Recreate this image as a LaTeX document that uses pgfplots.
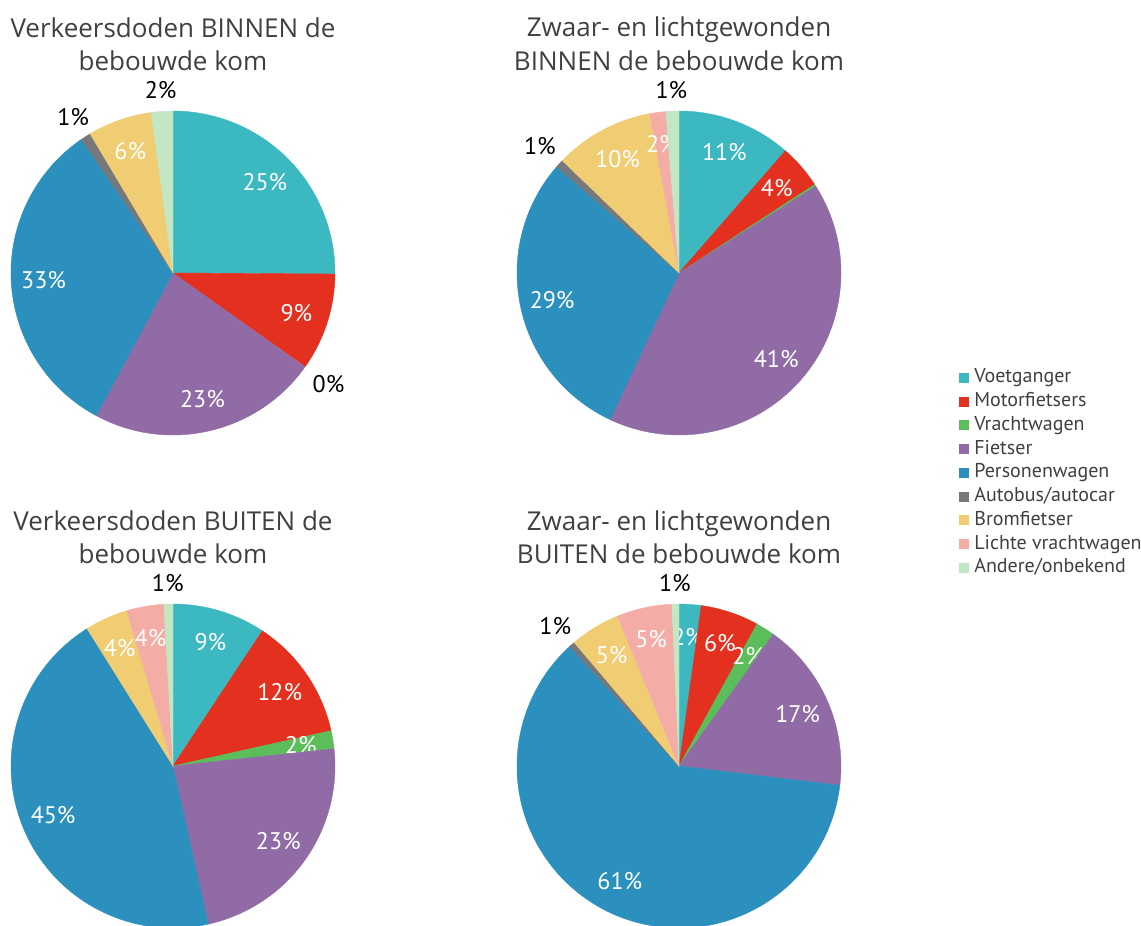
\documentclass[border=0pt]{standalone}
\usepackage{fontspec}
\setmainfont{PT Sans}
\newfontfamily\titlefont{Open Sans}
\usepackage{pgfplots}
\usepackage{pgfplotstable}
\pgfplotsset{compat=1.18}

% slice colours, in legend order
\definecolor{c0}{HTML}{3BB8C0}
\definecolor{c1}{HTML}{E4301F}
\definecolor{c2}{HTML}{5BBE5A}
\definecolor{c3}{HTML}{906BA6}
\definecolor{c4}{HTML}{2B90BD}
\definecolor{c5}{HTML}{77787B}
\definecolor{c6}{HTML}{F0CC72}
\definecolor{c7}{HTML}{F4ADA6}
\definecolor{c8}{HTML}{C3E6C3}
\definecolor{txtgray}{HTML}{404040}

% val = share in %, lbl = printed label, pos: 0 none, 1 inside, 2 outside
\pgfplotstableread{
val  lbl pos
25.1 25 1
9.7  9  1
0.05 0  2
23.0 23 1
32.6 33 1
1.0  1  2
6.4  6  1
0    0  0
2.15 2  2
}\pieA
\pgfplotstableread{
val  lbl pos
11.4 11 1
4.4  4  1
0.2  0  0
41.0 41 1
29.4 29 1
0.8  1  2
9.9  10 1
1.6  2  1
1.3  1  2
}\pieB
\pgfplotstableread{
val  lbl pos
9.3  9  1
12.2 12 1
1.8  2  1
23.2 23 1
44.6 45 1
0    0  0
4.3  4  1
3.7  4  1
0.9  1  2
}\pieC
\pgfplotstableread{
val  lbl pos
2.2  2  1
5.8  6  1
1.9  2  1
17.0 17 1
61.3 61 1
0.6  1  2
5.0  5  1
5.5  5  1
0.7  1  2
}\pieD

\newcommand{\drawpie}[1]{%
  \pgfplotsextra{%
    \pgfplotstablegetrowsof{#1}%
    \pgfmathtruncatemacro\lastrow{\pgfplotsretval-1}%
    \gdef\cum{0}%
    \foreach \i in {0,...,\lastrow}{%
      \pgfplotstablegetelem{\i}{val}\of{#1}\let\sval\pgfplotsretval
      \pgfplotstablegetelem{\i}{lbl}\of{#1}\let\slbl\pgfplotsretval
      \pgfplotstablegetelem{\i}{pos}\of{#1}\let\spos\pgfplotsretval
      \pgfmathsetmacro\aA{90-3.6*\cum}%
      \pgfmathsetmacro\aB{90-3.6*(\cum+\sval)}%
      \pgfmathsetmacro\aM{(\aA+\aB)/2}%
      \pgfmathsetmacro\anc{\aM+180}%
      \ifdim\sval pt>0.1pt
        \fill[c\i, draw=c\i, line width=0.2pt] (axis cs:0,0) -- ++(\aA:81pt)
          arc[start angle=\aA, end angle=\aB, radius=81pt] -- cycle;
      \fi
      \ifnum\spos=1
        \node[text=white, font=\fontsize{12}{14}\selectfont]
          at ([shift={(\aM:64.8pt)}]axis cs:0,0) {\slbl\%};
      \fi
      \ifnum\spos=2
        \node[text=black, anchor=\anc, inner sep=1pt, font=\fontsize{12}{14}\selectfont]
          at ([shift={(\aM:86pt)}]axis cs:0,0) {\slbl\%};
      \fi
      \pgfmathsetmacro\newcum{\cum+\sval}\xdef\cum{\newcum}%
    }%
  }%
}

\begin{document}
\begin{tikzpicture}
\pgfplotsset{pie/.style={hide axis, x=81pt, y=81pt, xmin=-1, xmax=1,
  ymin=-1, ymax=1, anchor=center, clip=false}}

\begin{axis}[pie, at={(86.5pt,-136.5pt)}]
\drawpie{\pieA}
\end{axis}

\begin{axis}[pie, at={(339.5pt,-136.5pt)},
  legend style={at={(axis description cs:1.364,-0.117)}, anchor=west,
    draw=none, fill=none, inner sep=0pt, row sep=2.875pt,
    font=\fontsize{10}{12}\selectfont, text=txtgray,
    nodes={inner sep=0pt, text height=7pt, text depth=2pt}},
  legend cell align=left,
  legend image code/.code={\fill[#1] (0pt,-2.5pt) rectangle (5pt,2.5pt);
    \path (7.5pt,0pt);}]
\drawpie{\pieB}
\addlegendimage{fill=c0, draw=none}\addlegendentry{Voetganger}
\addlegendimage{fill=c1, draw=none}\addlegendentry{Motorfietsers}
\addlegendimage{fill=c2, draw=none}\addlegendentry{Vrachtwagen}
\addlegendimage{fill=c3, draw=none}\addlegendentry{Fietser}
\addlegendimage{fill=c4, draw=none}\addlegendentry{Personenwagen}
\addlegendimage{fill=c5, draw=none}\addlegendentry{Autobus/autocar}
\addlegendimage{fill=c6, draw=none}\addlegendentry{Bromfietser}
\addlegendimage{fill=c7, draw=none}\addlegendentry{Lichte vrachtwagen}
\addlegendimage{fill=c8, draw=none}\addlegendentry{Andere/onbekend}
\end{axis}

\begin{axis}[pie, at={(86.5pt,-383pt)}]
\drawpie{\pieC}
\end{axis}

\begin{axis}[pie, at={(339.5pt,-383pt)}]
\drawpie{\pieD}
\end{axis}

% titles
\begin{scope}[every node/.style={anchor=base, text=txtgray,
  font=\titlefont\fontsize{13}{16}\selectfont}]
\node at (86.5pt,-18.5pt) {Verkeersdoden BINNEN de};
\node at (86.5pt,-35pt) {bebouwde kom};
\node at (339.5pt,-18pt) {Zwaar- en lichtgewonden};
\node at (339.5pt,-35pt) {BINNEN de bebouwde kom};
\node at (86.5pt,-265pt) {Verkeersdoden BUITEN de};
\node at (86.5pt,-281.5pt) {bebouwde kom};
\node at (339.5pt,-265pt) {Zwaar- en lichtgewonden};
\node at (339.5pt,-281.5pt) {BUITEN de bebouwde kom};
\end{scope}

\pgfresetboundingbox
\path[use as bounding box] (0pt,0pt) rectangle (570.5pt,-463pt);
\end{tikzpicture}
\end{document}
